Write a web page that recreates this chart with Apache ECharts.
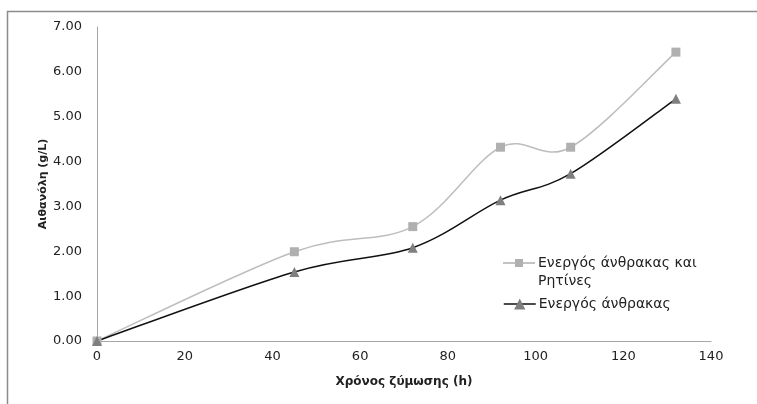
<!DOCTYPE html>
<html>
<head>
<meta charset="utf-8">
<script src="https://cdn.jsdelivr.net/npm/echarts@6/dist/echarts.min.js"></script>
<style>
  html, body { margin: 0; padding: 0; background: #fff; }
  #chart { width: 757px; height: 404px; }
</style>
</head>
<body>
<div id="chart"></div>
<script>
// Fermentation time (h) and ethanol concentration (g/L)
const hours = [0, 45, 72, 92, 108, 132];
const carbonAndResins = [0.00, 1.99, 2.55, 4.32, 4.32, 6.44];
const carbonOnly = [0.00, 1.54, 2.08, 3.14, 3.73, 5.40];
const seriesNames = ['Ενεργός άνθρακας και\nΡητίνες', 'Ενεργός άνθρακας'];
const yTicks = { min: 0, max: 7, step: 1 };
const xTicks = { min: 0, max: 140, step: 20 };

const pairs = (xs, ys) => xs.map((x, i) => [x, ys[i]]);
const font = 'DejaVu Sans';

// Spreadsheet-style smoothed line: one cubic Bezier per segment, control
// points taken from the neighbouring points (Catmull-Rom) in pixel space.
function smoothSegments(xs, ys, color, width) {
  return function (params, api) {
    const i = params.dataIndex;
    if (i >= xs.length - 1) return null;
    const p = k => api.coord([xs[Math.max(0, Math.min(xs.length - 1, k))],
                              ys[Math.max(0, Math.min(ys.length - 1, k))]]);
    const p0 = p(i - 1), p1 = p(i), p2 = p(i + 1), p3 = p(i + 2);
    return {
      type: 'bezierCurve',
      shape: {
        x1: p1[0], y1: p1[1], x2: p2[0], y2: p2[1],
        cpx1: p1[0] + (p2[0] - p0[0]) / 6, cpy1: p1[1] + (p2[1] - p0[1]) / 6,
        cpx2: p2[0] - (p3[0] - p1[0]) / 6, cpy2: p2[1] - (p3[1] - p1[1]) / 6
      },
      style: { fill: null, stroke: color, lineWidth: width },
      silent: true
    };
  };
}

const chart = echarts.init(document.getElementById('chart'));
chart.setOption({
  animation: false,
  backgroundColor: '#fff',
  graphic: [{
    type: 'rect',
    shape: { x: 7.5, y: 11.5, width: 800, height: 500 },
    style: { fill: 'none', stroke: '#8c8c8c', lineWidth: 1.5 },
    silent: true
  }],
  grid: { left: 97, right: 46, top: 27, bottom: 63 },
  legend: [{
    data: [seriesNames[0]],
    left: 503, top: 254, padding: 0,
    itemWidth: 32, itemHeight: 26, itemGap: 0,
    icon: 'path://M12,0 L20,0 L20,8 L12,8 Z M0,3.3 L32,3.3 L32,4.7 L0,4.7 Z M0,25.99 L0.01,25.99 L0.01,26 L0,26 Z',
    textStyle: { fontFamily: font, fontSize: 14, color: '#222', lineHeight: 18, padding: [0, 0, 0, -2] }
  }, {
    data: [seriesNames[1]],
    left: 503, top: 297, padding: 0,
    itemWidth: 32, itemHeight: 14,
    lineStyle: { color: '#111', width: 1.5, opacity: 1 },
    textStyle: { fontFamily: font, fontSize: 14, color: '#222', padding: [0, 0, 0, -2] }
  }],
  xAxis: {
    type: 'value',
    min: xTicks.min, max: xTicks.max, interval: xTicks.step,
    name: 'Χρόνος ζύμωσης (h)',
    nameLocation: 'middle', nameGap: 35,
    nameTextStyle: { fontFamily: font, fontSize: 12, fontWeight: 'bold', fontStyle: 'normal', color: '#222' },
    axisLine: { lineStyle: { color: '#a6a6a6', width: 1 } },
    axisTick: { show: false },
    splitLine: { show: false },
    axisLabel: { fontFamily: font, fontSize: 13, color: '#222', margin: 9 }
  },
  yAxis: {
    type: 'value',
    min: yTicks.min, max: yTicks.max, interval: yTicks.step,
    name: 'Αιθανόλη (g/L)',
    nameLocation: 'middle', nameGap: 48, nameMoveOverlap: false,
    nameTextStyle: { fontFamily: font, fontSize: 11, fontWeight: 'bold', fontStyle: 'normal', color: '#222' },
    axisLine: { show: true, lineStyle: { color: '#a6a6a6', width: 1 } },
    axisTick: { show: false },
    splitLine: { show: false },
    axisLabel: { fontFamily: font, fontSize: 13, color: '#222', margin: 15,
      formatter: v => v.toFixed(2) }
  },
  series: [{
    type: 'custom',
    renderItem: smoothSegments(hours, carbonAndResins, '#bdbdbd', 1.5),
    data: pairs(hours, carbonAndResins),
    clip: false, z: 1, silent: true
  }, {
    type: 'custom',
    renderItem: smoothSegments(hours, carbonOnly, '#111', 1.5),
    data: pairs(hours, carbonOnly),
    clip: false, z: 1, silent: true
  }, {
    name: seriesNames[0],
    type: 'line',
    data: pairs(hours, carbonAndResins),
    symbol: 'rect', symbolSize: 9,
    itemStyle: { color: '#b0b0b0' },
    lineStyle: { opacity: 0 },
    z: 4
  }, {
    name: seriesNames[1],
    type: 'line',
    data: pairs(hours, carbonOnly),
    symbol: 'triangle', symbolSize: 10,
    itemStyle: { color: '#7f7f7f' },
    lineStyle: { color: '#111', width: 1.5, opacity: 0 },
    z: 5
  }]
});
</script>
</body>
</html>
